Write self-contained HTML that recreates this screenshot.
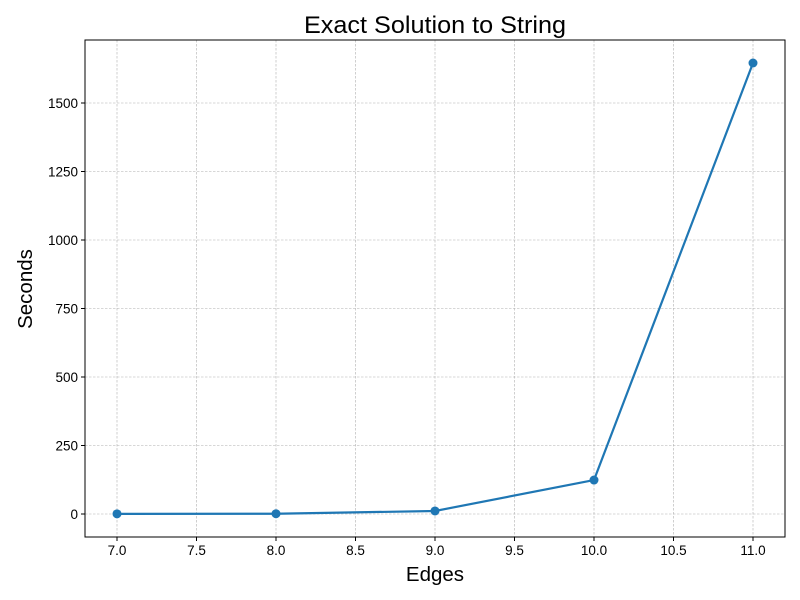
<!DOCTYPE html>
<html><head><meta charset="utf-8"><style>body{margin:0;background:#fff}svg{display:block;font-family:"Liberation Sans",sans-serif}</style></head>
<body>
<svg id="chart" width="800" height="600"></svg>
<script>
const edges = [7, 8, 9, 10, 11];
const seconds = [0.5, 1, 11, 124, 1646];
const xTicks = [7.0, 7.5, 8.0, 8.5, 9.0, 9.5, 10.0, 10.5, 11.0];
const yTicks = [0, 250, 500, 750, 1000, 1250, 1500];

const L=85,R=785,T=40,B=537;
const sx=v=>117+(v-7)*(753-117)/4;
const sy=v=>514-v*(514-103)/1500;
const svg=document.getElementById('chart');
const NS='http://www.w3.org/2000/svg';
function mk(t,a,txt){const e=document.createElementNS(NS,t);for(const k in a)e.setAttribute(k,a[k]);if(txt!==undefined)e.textContent=txt;svg.appendChild(e);return e;}
xTicks.forEach(v=>{
  const x=sx(v);
  let g=mk('line',{x1:x,x2:x,y1:T,y2:B,stroke:'#b0b0b0','stroke-width':0.6,'stroke-dasharray':'2.5,1.5'});
  
  mk('line',{x1:x,x2:x,y1:B,y2:B+4,stroke:'#000'});
  let t=mk('text',{x:x,y:B+18,'text-anchor':'middle','font-size':13.5},v.toFixed(1));
  
});
yTicks.forEach(v=>{
  const y=sy(v);
  let g=mk('line',{x1:L,x2:R,y1:y,y2:y,stroke:'#b0b0b0','stroke-width':0.6,'stroke-dasharray':'2.5,1.5'});
  
  mk('line',{x1:L-4,x2:L,y1:y,y2:y,stroke:'#000'});
  let t=mk('text',{x:L-7,y:y+5,'text-anchor':'end','font-size':13.5},String(v));
  
});
let ax=mk('rect',{x:L,y:T,width:R-L,height:B-T,fill:'none',stroke:'#000','stroke-width':1});

let ln=mk('polyline',{points:edges.map((e,i)=>sx(e)+','+sy(seconds[i])).join(' '),fill:'none',stroke:'#1f77b4','stroke-width':2.2});

edges.forEach((e,i)=>{
  let c=mk('circle',{cx:sx(e),cy:sy(seconds[i]),r:4.5,fill:'#1f77b4'});
  
});
let tt=mk('text',{x:435,y:33,'text-anchor':'middle','font-size':24,textLength:262,lengthAdjust:'spacingAndGlyphs'},'Exact Solution to String');

let xl=mk('text',{x:435,y:581,'text-anchor':'middle','font-size':20.5},'Edges');

let yl=mk('text',{x:32,y:289,'text-anchor':'middle','font-size':20.5,transform:'rotate(-90 32 289)'},'Seconds');

</script>
</body></html>
